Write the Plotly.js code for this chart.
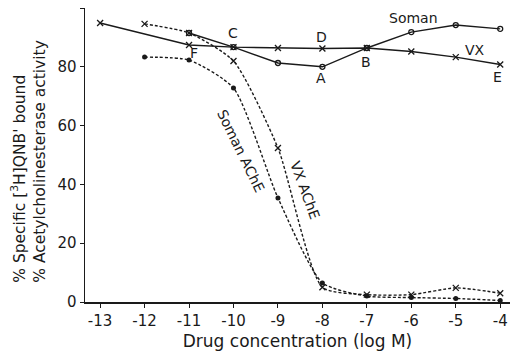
<!DOCTYPE html>
<html>
<head>
<meta charset="utf-8">
<script src="https://cdn.plot.ly/plotly-3.0.1.min.js"></script>
<style>html,body{margin:0;padding:0;background:#fff;}#chart{width:519px;height:357px;}</style>
</head>
<body>
<div id="chart"></div>
<script>
// Drug concentration (log M)
var xSoman = [-11, -10, -9, -8, -7, -6, -5, -4];
var ySoman = [91.5, 86.7, 81.3, 80, 86.4, 91.8, 94.2, 92.9];

var xVX = [-13, -11, -10, -9, -8, -7, -6, -5, -4];
var yVX = [94.9, 87.4, 86.7, 86.4, 86.2, 86.4, 85.2, 83.3, 80.8];

var xVXAChE = [-12, -11, -10, -9, -8, -7, -6, -5, -4];
var yVXAChE = [94.6, 91.5, 82, 52.4, 5, 2.5, 2.5, 4.8, 3];

var xSomanAChE = [-12, -11, -10, -9, -8, -7, -6, -5, -4];
var ySomanAChE = [83.3, 82.3, 72.8, 35.4, 6.5, 2, 1.5, 1.2, 0.5];

var xTickVals = [-13, -12, -11, -10, -9, -8, -7, -6, -5, -4];
var xTickText = ["-13", "-12", "-11", "-10", "-9", "-8", "-7", "-6", "-5", "-4"];
var yTickVals = [0, 20, 40, 60, 80, 100];
var yTickText = ["0", "20", "40", "60", "80", "100"];

var FONT = "DejaVu Sans, sans-serif";
var INK = "#1a1a1a";

var traces = [
  {x: xSoman, y: ySoman, mode: "lines+markers", name: "Soman",
   line: {color: INK, width: 1.4},
   marker: {symbol: "circle-open", size: 5, color: INK, line: {width: 1.3, color: INK}}},
  {x: xVX, y: yVX, mode: "lines+markers", name: "VX",
   line: {color: INK, width: 1.4},
   marker: {symbol: "x-thin-open", size: 6, color: INK, line: {width: 1.3, color: INK}}},
  {x: xVXAChE, y: yVXAChE, mode: "lines+markers", name: "VX AChE",
   line: {color: INK, width: 1.4, dash: "3px,2px", shape: "spline", smoothing: 0.6},
   marker: {symbol: "x-thin-open", size: 6, color: INK, line: {width: 1.3, color: INK}}},
  {x: xSomanAChE, y: ySomanAChE, mode: "lines+markers", name: "Soman AChE",
   line: {color: INK, width: 1.4, dash: "3px,2px", shape: "spline", smoothing: 0.6},
   marker: {symbol: "circle", size: 5, color: INK}}
];

function lab(t, x, y, ang, size) {
  return {text: t, x: x, y: y, xref: "x", yref: "y", showarrow: false,
          xanchor: "center", yanchor: "middle",
          textangle: ang || 0, font: {family: FONT, size: size || 14, color: INK}};
}

var layout = {
  width: 519, height: 357,
  margin: {l: 85, r: 9, t: 8, b: 55},
  paper_bgcolor: "#fff", plot_bgcolor: "#fff",
  showlegend: false,
  font: {family: FONT, color: INK, size: 14},
  xaxis: {
    range: [-13.34, -3.78], tickvals: xTickVals, ticktext: xTickText,
    showgrid: false, zeroline: false, showline: true, linecolor: INK, linewidth: 1.5,
    ticks: "outside", ticklen: 4, tickcolor: INK, tickfont: {family: FONT, size: 15, color: INK},
    title: {text: "Drug concentration (log M)", font: {family: FONT, size: 17, color: INK}, standoff: 6}
  },
  yaxis: {
    range: [0, 100], tickvals: yTickVals, ticktext: yTickText,
    showgrid: false, zeroline: false, showline: true, linecolor: INK, linewidth: 1.5,
    ticks: "outside", ticklen: 4, tickcolor: INK, tickfont: {family: FONT, size: 15, color: INK}
  },
  annotations: [
    {text: "% Specific [<sup>3</sup>H]QNB' bound<br>% Acetylcholinesterase activity",
     xref: "paper", yref: "paper", x: -0.132, y: 0.48, xanchor: "center", yanchor: "middle",
     showarrow: false, textangle: -90,
     align: "left", font: {family: FONT, size: 15.5, color: INK}},
    lab("Soman", -5.96, 96.6),
    lab("VX", -4.56, 85.7),
    lab("C", -10.0, 91.5),
    lab("D", -8.03, 90.1),
    lab("A", -8.03, 76.2),
    lab("B", -7.01, 81.6),
    lab("E", -4.07, 76.5),
    lab("F", -10.88, 84.7),
    lab("Soman AChE", -9.83, 51.4, 64),
    lab("VX AChE", -8.39, 38.1, 70)
  ]
};

Plotly.newPlot("chart", traces, layout, {displayModeBar: false, staticPlot: true});
</script>
</body>
</html>
